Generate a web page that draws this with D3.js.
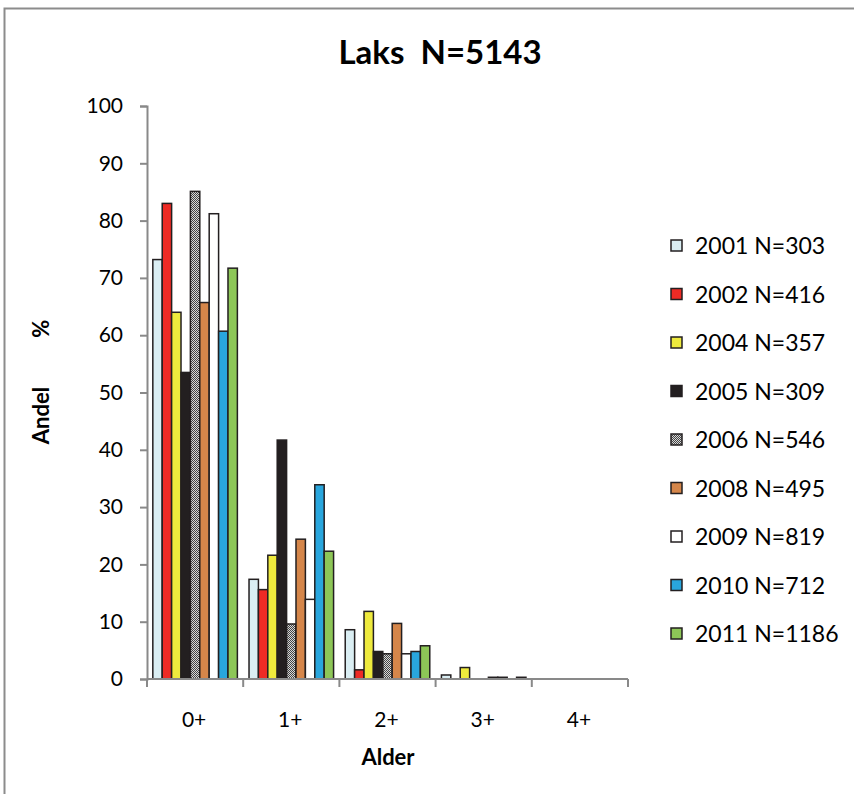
<!DOCTYPE html>
<html>
<head>
<meta charset="utf-8">
<script src="https://cdn.jsdelivr.net/npm/d3@7"></script>
<style>
  html, body { margin: 0; padding: 0; background: #fff; }
  svg { display: block; }
  text.pre { white-space: pre; }
</style>
</head>
<body>
<svg id="chart" width="854" height="794"></svg>
<script>
// Age-class distribution of salmon samples per year
const ageClasses = ["0+", "1+", "2+", "3+", "4+"];
const seriesNames = ["2001 N=303", "2002 N=416", "2004 N=357", "2005 N=309", "2006 N=546",
                     "2008 N=495", "2009 N=819", "2010 N=712", "2011 N=1186"];
// share (%) per age class, one array per year
const v2001 = [73.2, 17.4, 8.6, 0.7, 0];
const v2002 = [83.0, 15.6, 1.6, 0, 0];
const v2004 = [64.0, 21.6, 11.8, 2.0, 0];
const v2005 = [53.5, 41.7, 4.8, 0, 0];
const v2006 = [85.1, 9.6, 4.4, 0, 0];
const v2008 = [65.7, 24.4, 9.7, 0.3, 0];
const v2009 = [81.2, 13.9, 4.4, 0.3, 0];
const v2010 = [60.7, 33.9, 4.8, 0, 0];
const v2011 = [71.7, 22.3, 5.8, 0.3, 0];
const seriesValues = [v2001, v2002, v2004, v2005, v2006, v2008, v2009, v2010, v2011];
const yTicks = [0, 10, 20, 30, 40, 50, 60, 70, 80, 90, 100];

const fills = ["#daeef3", "#ee2b25", "#eeea3d", "#231f20", "url(#checker)",
               "#d5864a", "#ffffff", "#29a6dd", "#8dc657"];

const svg = d3.select("#chart");

// fine checker texture used for the 2006 series
const defs = svg.append("defs");
const pat = defs.append("pattern").attr("id", "checker")
  .attr("patternUnits", "userSpaceOnUse").attr("width", 2).attr("height", 2);
pat.append("rect").attr("width", 2).attr("height", 2).attr("fill", "#d8d8d8");
pat.append("rect").attr("x", 0).attr("y", 0).attr("width", 1).attr("height", 1).attr("fill", "#444");
pat.append("rect").attr("x", 1).attr("y", 1).attr("width", 1).attr("height", 1).attr("fill", "#444");

// outer frame
svg.append("rect").attr("x", 4.5).attr("y", 8.5).attr("width", 900).attr("height", 900)
  .attr("fill", "none").attr("stroke", "#8c8c8c").attr("stroke-width", 2);

const plot = { left: 147, right: 628, top: 106, bottom: 679 };

const y = d3.scaleLinear().domain([0, 100]).range([plot.bottom, plot.top]);
const x0 = d3.scaleBand().domain(ageClasses).range([plot.left, plot.right]).paddingInner(0).paddingOuter(0);
const x1 = d3.scaleBand().domain(d3.range(seriesNames.length))
  .range([0, x0.bandwidth()]).paddingInner(0).paddingOuter(0.62);

// bars
const groups = svg.append("g").selectAll("g")
  .data(seriesValues).join("g")
  .attr("fill", (d, i) => fills[i]);
groups.selectAll("rect")
  .data((vals, si) => vals.map((v, ci) => ({ v, ci, si })).filter(d => d.v > 0))
  .join("rect")
  .attr("x", d => x0(ageClasses[d.ci]) + x1(d.si))
  .attr("y", d => y(d.v))
  .attr("width", x1.bandwidth())
  .attr("height", d => y(0) - y(d.v))
  .attr("stroke", "#231f20")
  .attr("stroke-width", 1.5);

const axisColor = "#898989";
const tickFont = "Lato, 'Open Sans', sans-serif";

// y axis
const yAxis = svg.append("g").attr("transform", `translate(${plot.left},0)`)
  .call(d3.axisLeft(y).tickValues(yTicks).tickSize(7).tickPadding(17).tickFormat(d3.format("d")));
yAxis.select(".domain").attr("stroke", axisColor).attr("stroke-width", 2);
yAxis.selectAll(".tick line").attr("stroke", axisColor).attr("stroke-width", 2);
yAxis.selectAll(".tick text").attr("fill", "#000").attr("font-family", tickFont).attr("font-size", 21);

// x axis: ticks sit on the category boundaries
const xAxisG = svg.append("g").attr("transform", `translate(0,${plot.bottom})`);
xAxisG.append("line").attr("x1", plot.left).attr("x2", plot.right)
  .attr("stroke", axisColor).attr("stroke-width", 2);
const boundaries = ageClasses.map(c => x0(c)).concat([x0(ageClasses[ageClasses.length - 1]) + x0.bandwidth()]);
xAxisG.selectAll("line.tk").data(boundaries).join("line").attr("class", "tk")
  .attr("x1", d => d).attr("x2", d => d).attr("y1", 0).attr("y2", 8)
  .attr("stroke", axisColor).attr("stroke-width", 2);
xAxisG.selectAll("text").data(ageClasses).join("text")
  .attr("x", d => x0(d) + x0.bandwidth() / 2 - 1)
  .attr("y", 48)
  .attr("text-anchor", "middle")
  .attr("font-family", tickFont).attr("font-size", 21)
  .text(d => d);

// titles
svg.append("text").attr("class", "pre").attr("x", 440).attr("y", 64).attr("text-anchor", "middle")
  .attr("font-family", tickFont).attr("font-weight", "bold").attr("font-size", 33)
  .text("Laks  N=5143");
svg.append("text").attr("x", 388).attr("y", 765).attr("text-anchor", "middle")
  .attr("font-family", tickFont).attr("font-weight", "bold").attr("font-size", 22)
  .text("Alder");
svg.append("text").attr("class", "pre").attr("transform", "translate(49,382) rotate(-90)")
  .attr("text-anchor", "middle")
  .attr("font-family", tickFont).attr("font-weight", "bold").attr("font-size", 22)
  .attr("word-spacing", 11)
  .text("Andel   %");

// legend
const legend = svg.append("g");
const rows = legend.selectAll("g").data(seriesNames).join("g")
  .attr("transform", (d, i) => `translate(671,${246 + i * 48.5})`);
rows.append("rect").attr("x", 0).attr("y", -6).attr("width", 11).attr("height", 11)
  .attr("fill", (d, i) => fills[i]).attr("stroke", "#231f20").attr("stroke-width", 1.5);
rows.append("text").attr("x", 24).attr("y", 8)
  .attr("font-family", tickFont).attr("font-size", 23)
  .text(d => d);
</script>
</body>
</html>
